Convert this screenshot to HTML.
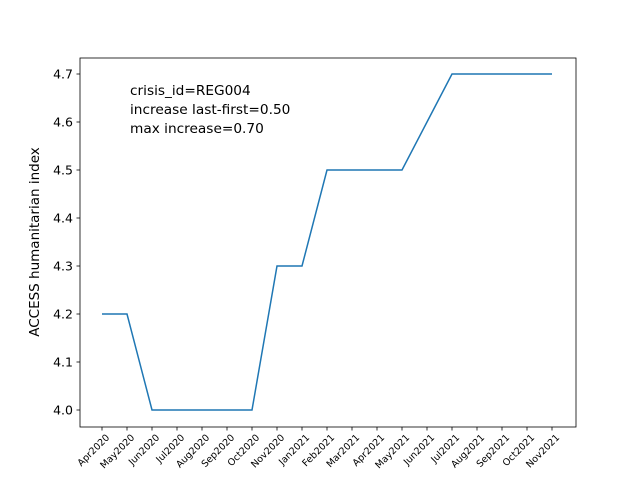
<!DOCTYPE html>
<html><head><meta charset="utf-8"><style>
body{margin:0;background:#fff}
svg text{font-family:"DejaVu Sans","Liberation Sans",sans-serif}
</style></head><body>
<svg id="chart" width="640" height="480" xmlns="http://www.w3.org/2000/svg">
<rect width="640" height="480" fill="#fff"/>
<g id="plot"></g>
</svg>
<script>
const categories=["Apr2020","May2020","Jun2020","Jul2020","Aug2020","Sep2020","Oct2020","Nov2020","Jan2021","Feb2021","Mar2021","Apr2021","May2021","Jun2021","Jul2021","Aug2021","Sep2021","Oct2021","Nov2021"];
const values=[4.2,4.2,4.0,4.0,4.0,4.0,4.0,4.3,4.3,4.5,4.5,4.5,4.5,4.6,4.7,4.7,4.7,4.7,4.7];
const yTicks=[4.0,4.1,4.2,4.3,4.4,4.5,4.6,4.7];
const annotations=["crisis_id=REG004","increase last-first=0.50","max increase=0.70"];
const L=80,R=576,T=58,B=427;
const ns="http://www.w3.org/2000/svg";
const g=document.getElementById('plot');
const x0=102,dx=25;
function xs(i){return x0+i*dx;}
const yMin=4.0,yMax=4.7,yPx0=410,yPx1=74;
function ys(v){return yPx0+(v-yMin)/(yMax-yMin)*(yPx1-yPx0);}
function mk(t,a){const e=document.createElementNS(ns,t);for(const k in a)e.setAttribute(k,a[k]);g.appendChild(e);return e;}
categories.forEach((c,i)=>{
 const t=mk('line',{x1:xs(i),x2:xs(i),y1:B,y2:B+3.5,stroke:'#000','stroke-width':0.8});
 
 
 const x=xs(i)+3,y=B+6;
 const lb=mk('text',{x:x,y:y,'font-size':9.5,'text-anchor':'end',transform:`rotate(-45 ${x} ${y})`,dy:'0.75em'});
 lb.textContent=c;
 
 
});
yTicks.forEach(v=>{
 const y=ys(v);
 const t=mk('line',{x1:L-3.5,x2:L,y1:y,y2:y,stroke:'#000','stroke-width':0.8});
 
 
 const lb=mk('text',{x:L-7,y:y+4.5,'font-size':12.5,'text-anchor':'end'});
 lb.textContent=v.toFixed(1);
 
 
});
const pts=values.map((v,i)=>xs(i)+','+ys(v)).join(' ');
const line=mk('polyline',{points:pts,fill:'none',stroke:'#1f77b4','stroke-width':1.5});


const fr=mk('rect',{x:L,y:T,width:R-L,height:B-T,fill:'none',stroke:'#000','stroke-width':0.8});


annotations.forEach((s,i)=>{
 const t=mk('text',{x:130,y:95+i*19,'font-size':13.7});
 t.textContent=s;
 
 
});
const yt=mk('text',{x:39,y:242,'font-size':13.5,'text-anchor':'middle',transform:'rotate(-90 39 242)'});
yt.textContent='ACCESS humanitarian index';


</script>
</body></html>
